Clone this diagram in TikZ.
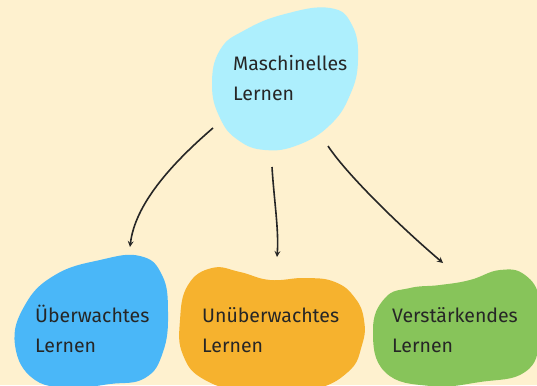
\documentclass[tikz,border=0pt]{standalone}
\usepackage{fontspec}
\setmainfont{Fira Sans}
\usepackage{tikz}
\usetikzlibrary{arrows, positioning}
\definecolor{hgcream}{HTML}{FEF1CF}
\definecolor{blobcyan}{HTML}{ADEFFD}
\definecolor{blobblue}{HTML}{4AB7F8}
\definecolor{bloborange}{HTML}{F6B22E}
\definecolor{blobgreen}{HTML}{87C45A}
\definecolor{inkgray}{HTML}{262626}

\begin{document}
\begin{tikzpicture}[x=1pt,y=-1pt,
    blob/.style={smooth cycle,tension=0.75},
    txt/.style={anchor=base west,align=left,inner sep=0pt,text=inkgray,font=\fontsize{19.5}{30}\selectfont},
    pfeil/.style={->,>=stealth,line width=1.6pt,inkgray}]
    % Hintergrund
    \useasboundingbox (0,0) rectangle (537,385);
    \fill[hgcream] (0,0) rectangle (537,385);
    \clip (0,0) rectangle (537,385);

    % Blobs
    \fill[blobcyan] plot[blob] coordinates {(212,85) (220,50) (245,30) (285,14) (330,8) (352,25) (358,60) (350,95) (330,125) (298,145) (265,150) (238,140) (220,118)};
    \fill[blobblue] plot[blob] coordinates {(15,345) (25,305) (55,275) (100,260) (140,256) (162,275) (168,312) (163,352) (145,378) (110,384) (75,387) (35,380)};
    \fill[bloborange] plot[blob] coordinates {(180,320) (188,285) (212,268) (240,272) (270,280) (305,278) (335,282) (355,298) (364,320) (362,345) (348,372) (310,390) (250,392) (205,380) (183,355)};
    \fill[blobgreen] plot[blob] coordinates {(373,330) (385,298) (410,288) (440,285) (470,280) (500,270) (525,275) (540,300) (540,340) (525,372) (480,382) (430,386) (385,372)};

    % Texte (Anker = Grundlinie der letzten Zeile)
    \node[txt] (ml) at (233,100) {Maschinelles\\Lernen};
    \node[txt] (ueberw) at (35,352) {Überwachtes\\Lernen};
    \node[txt] (unueberw) at (202,352) {Unüberwachtes\\Lernen};
    \node[txt] (verst) at (392,352) {Verstärkendes\\Lernen};

    % Pfeilenden
    \coordinate (ml-l) at (213,128);
    \coordinate (ml-m) at (272,167);
    \coordinate (ml-r) at (328,146);
    \coordinate (ueberw-n) at (130,247);
    \coordinate (unueberw-n) at (277,257);
    \coordinate (verst-n) at (443,263);

    \draw[pfeil] (ml-l) .. controls (170,165) and (135,205) .. (ueberw-n);
    \draw[pfeil] (ml-m) .. controls (274,200) and (279,230) .. (unueberw-n);
    \draw[pfeil] (ml-r) .. controls (345,172) and (395,222) .. (verst-n);
\end{tikzpicture}
\end{document}
